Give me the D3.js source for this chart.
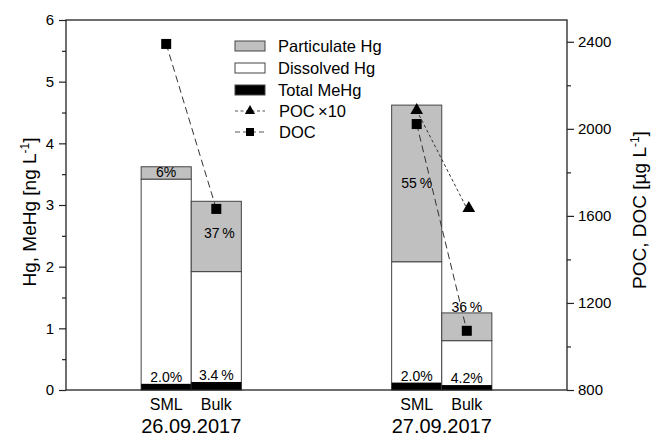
<!DOCTYPE html>
<html><head><meta charset="utf-8">
<script src="https://cdn.jsdelivr.net/npm/d3@7"></script>
<style>body{margin:0;background:#fff}svg{display:block}text{font-family:"Liberation Sans",Arial,sans-serif;fill:#000}</style>
</head><body><svg id="c" width="654" height="439"></svg>
<script>
const dates = ["26.09.2017", "27.09.2017"];
const sites = ["SML", "Bulk"];
const sampleDate = ["26.09.2017", "26.09.2017", "27.09.2017", "27.09.2017"];
const sampleSite = ["SML", "Bulk", "SML", "Bulk"];
const dissolvedHg = [3.42, 1.92, 2.08, 0.80];
const particulateHg = [0.20, 1.14, 2.54, 0.45];
const totalMeHg = [0.10, 0.13, 0.12, 0.08];
const particulateLabel = ["6%", "37\u2009%", "55\u2009%", "36\u2009%"];
const meHgLabel = ["2.0%", "3.4\u2009%", "2.0%", "4.2%"];
const poc10 = [null, null, 2085, 1635];
const doc = [2390, 1632, 2022, 1072];
const leftTicks = [0, 1, 2, 3, 4, 5, 6];
const rightTicks = [800, 1200, 1600, 2000, 2400];

const svg = d3.select("#c");
const L = 66, R = 567, T = 20, B = 390;
const y = d3.scaleLinear().domain([0, 6]).range([B, T]);
const y2 = d3.scaleLinear().domain([800, 2500]).range([B, T]);
const xOuter = d3.scaleBand().domain(dates).range([L, R]).paddingInner(0.6).paddingOuter(0.3);
const xInner = d3.scaleBand().domain(sites).range([0, xOuter.bandwidth()]);
const bx = i => xOuter(sampleDate[i]) + xInner(sampleSite[i]);
const bw = xInner.bandwidth();
const cx = i => bx(i) + bw / 2;
const idx = d3.range(sampleSite.length);
const stroke = "#444";

// bars
const g = svg.append("g");
idx.forEach(i => {
  const top = dissolvedHg[i] + particulateHg[i];
  g.append("rect").attr("x", bx(i)).attr("width", bw).attr("y", y(dissolvedHg[i])).attr("height", y(0) - y(dissolvedHg[i]))
    .attr("fill", "#fff").attr("stroke", stroke).attr("stroke-width", 1);
  g.append("rect").attr("x", bx(i)).attr("width", bw).attr("y", y(top)).attr("height", y(dissolvedHg[i]) - y(top))
    .attr("fill", "#c0c0c0").attr("stroke", stroke).attr("stroke-width", 1);
  g.append("rect").attr("x", bx(i)).attr("width", bw).attr("y", y(totalMeHg[i])).attr("height", y(0) - y(totalMeHg[i]))
    .attr("fill", "#000");
});

// percent labels
const pctPos = [0.5, 0.55, 0.5, 0.85];
idx.forEach(i => {
  const top = dissolvedHg[i] + particulateHg[i];
  const yy = i === 3 ? y(top) - 1 : (i === 0 ? y(top) + 10 : y(dissolvedHg[i] + particulateHg[i] * pctPos[i]) + 5);
  g.append("text").attr("x", cx(i) + (i === 1 ? 3 : 0)).attr("y", yy).attr("text-anchor", "middle")
    .attr("font-size", 14).text(particulateLabel[i]);
  g.append("text").attr("x", cx(i)).attr("y", y(totalMeHg[i]) - 2).attr("text-anchor", "middle")
    .attr("font-size", 14).text(meHgLabel[i]);
});

// lines and markers
const lineG = svg.append("g");
dates.forEach(dt => {
  const ii = idx.filter(i => sampleDate[i] === dt);
  const pp = ii.filter(i => poc10[i] != null);
  if (pp.length > 1) {
    lineG.append("path").attr("d", d3.line().x(i => cx(i)).y(i => y2(poc10[i]))(pp))
      .attr("fill", "none").attr("stroke", "#333").attr("stroke-width", 1).attr("stroke-dasharray", "3,2.5");
  }
  lineG.append("path").attr("d", d3.line().x(i => cx(i)).y(i => y2(doc[i]))(ii))
    .attr("fill", "none").attr("stroke", "#333").attr("stroke-width", 1).attr("stroke-dasharray", "7,4");
});
const tri = d3.symbol().type(d3.symbolTriangle).size(70);
idx.filter(i => poc10[i] != null).forEach(i => {
  lineG.append("path").attr("d", tri()).attr("transform", `translate(${cx(i) + (i === 3 ? 2 : 0)},${y2(poc10[i])})`).attr("fill", "#000");
});
idx.forEach(i => {
  lineG.append("rect").attr("x", cx(i) - 5).attr("y", y2(doc[i]) - 5).attr("width", 10).attr("height", 10).attr("fill", "#000");
});

// frame
svg.append("rect").attr("x", L).attr("y", T).attr("width", R - L).attr("height", B - T)
  .attr("fill", "none").attr("stroke", "#222").attr("stroke-width", 1.3);

// axes
svg.append("g").attr("transform", `translate(${L},0)`)
  .call(d3.axisLeft(y).tickValues(leftTicks).tickFormat(d3.format("d")).tickSize(7).tickPadding(5));
svg.append("g").attr("transform", `translate(${L},0)`)
  .call(d3.axisLeft(y).tickValues(d3.range(0.5, 6, 1)).tickFormat("").tickSize(4));
svg.append("g").attr("transform", `translate(${R},0)`)
  .call(d3.axisRight(y2).tickValues(rightTicks).tickFormat(d3.format("d")).tickSize(7).tickPadding(4));
svg.append("g").attr("transform", `translate(${R},0)`)
  .call(d3.axisRight(y2).tickValues([1000, 1400, 1800, 2200]).tickFormat("").tickSize(4));
svg.selectAll(".domain").remove();
svg.selectAll(".tick line").attr("stroke", "#222").attr("stroke-width", 1.2);
svg.selectAll(".tick text").attr("font-size", 15).attr("font-family", "Liberation Sans, Arial, sans-serif").attr("fill", "#000");

// x labels
idx.forEach(i => {
  svg.append("text").attr("x", cx(i)).attr("y", 410).attr("text-anchor", "middle").attr("font-size", 16).text(sampleSite[i]);
});
dates.forEach(dt => {
  svg.append("text").attr("x", xOuter(dt) + xOuter.bandwidth() / 2).attr("y", 433).attr("text-anchor", "middle").attr("font-size", 20).text(dt);
});

// axis titles
const t1 = svg.append("text").attr("transform", "translate(36,212) rotate(-90)").attr("text-anchor", "middle").attr("font-size", 19);
t1.append("tspan").text("Hg, MeHg [ng L");
t1.append("tspan").attr("dy", -7).attr("font-size", 12).text("-1");
t1.append("tspan").attr("dy", 7).text("]");
const t2 = svg.append("text").attr("transform", "translate(646,210) rotate(-90)").attr("text-anchor", "middle").attr("font-size", 19);
t2.append("tspan").text("POC, DOC [µg L");
t2.append("tspan").attr("dy", -7).attr("font-size", 12).text("-1");
t2.append("tspan").attr("dy", 7).text("]");

// legend
const lg = svg.append("g");
const lx = 235, ly = [46, 68, 90, 111, 132];
const boxFill = ["#c0c0c0", "#fff", "#000"];
const boxText = ["Particulate Hg", "Dissolved Hg", "Total MeHg"];
boxText.forEach((t, k) => {
  lg.append("rect").attr("x", lx).attr("y", ly[k] - 5).attr("width", 30).attr("height", 10)
    .attr("fill", boxFill[k]).attr("stroke", "#444");
  lg.append("text").attr("x", 278).attr("y", ly[k] + 6).attr("font-size", 16.5).text(t);
});
[["POC\u2009×10", "3,2.5", "tri"], ["DOC", "5,3", "sq"]].forEach((e, k) => {
  const yy = ly[3 + k];
  lg.append("line").attr("x1", lx).attr("x2", lx + 30).attr("y1", yy).attr("y2", yy)
    .attr("stroke", "#555").attr("stroke-dasharray", e[1]);
  if (e[2] === "tri") lg.append("path").attr("d", d3.symbol().type(d3.symbolTriangle).size(45)()).attr("transform", `translate(${lx + 15},${yy})`);
  else lg.append("rect").attr("x", lx + 11).attr("y", yy - 4).attr("width", 8).attr("height", 8);
  lg.append("text").attr("x", 279).attr("y", yy + 6).attr("font-size", 16.5).text(e[0]);
});
</script></body></html>
